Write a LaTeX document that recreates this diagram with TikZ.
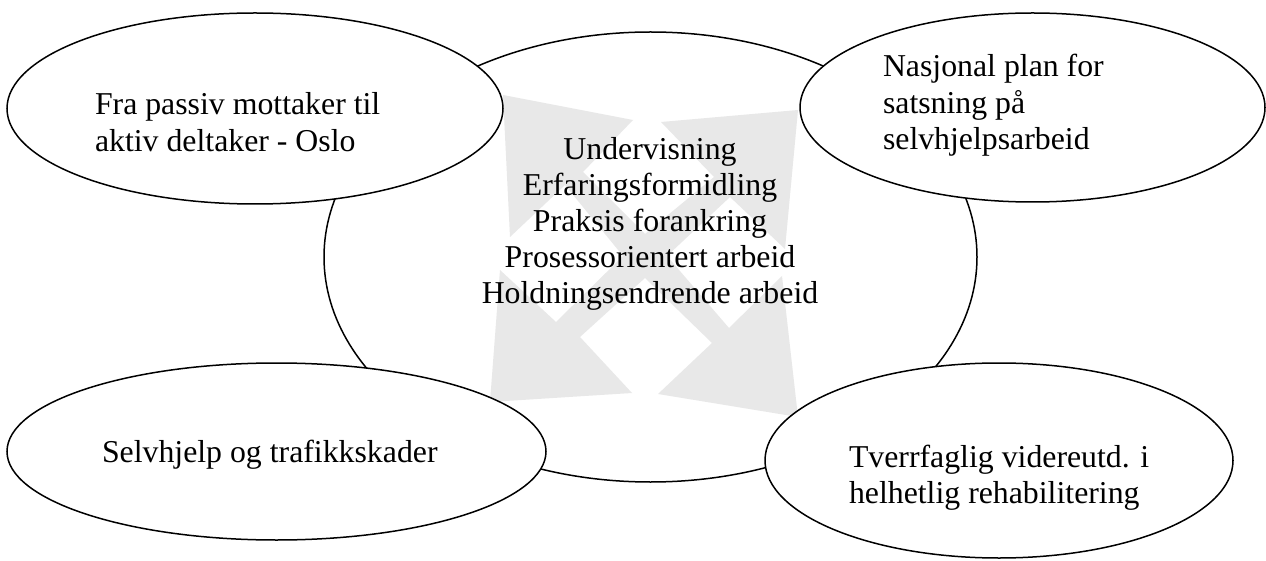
\documentclass[tikz,border=0pt]{standalone}
\usepackage{fontspec}
\setmainfont{Liberation Serif}
\usetikzlibrary{shapes.geometric}
\definecolor{arrowgrey}{RGB}{232,232,232}
\begin{document}
\begin{tikzpicture}[x=1pt,y=-1pt,
  bubble/.style={draw=black, line width=1.5pt, fill=white, ellipse, inner sep=0pt, outer sep=0pt},
  txt/.style={inner sep=0pt, outer sep=0pt, font=\fontsize{31.8}{36.3}\selectfont},
  lefttxt/.style={txt, anchor=base west},
  midtxt/.style={txt, anchor=base},
]
\useasboundingbox (0,0) rectangle (1266,561);
% central ellipse
\node[bubble, minimum width=653pt, minimum height=450pt] (hub) at (650.5,257) {};
% grey crossed double arrows
\fill[arrowgrey] (503,95) -- (633,120) -- (583,172) -- (645,234) -- (714,177) -- (661,122)
  -- (798,110) -- (785,249) -- (730,197) -- (667,256) -- (729,328) -- (782,276)
  -- (798,417) -- (658,394) -- (712,343) -- (645,278) -- (580,337) -- (632,393)
  -- (490,402) -- (500,270) -- (556,322) -- (623,256) -- (565,185) -- (510,237) -- cycle;
% central text
\node[midtxt] (h1) at (650,160) {Undervisning};
\node[midtxt] (h2) at (650,196) {Erfaringsformidling};
\node[midtxt] (h3) at (650,232) {Praksis forankring};
\node[midtxt] (h4) at (650,268) {Prosessorientert arbeid};
\node[midtxt] (h5) at (650,304) {Holdningsendrende arbeid};
% outer ellipses
\node[bubble, minimum width=496pt, minimum height=191pt] (tl) at (255,108.5) {};
\node[bubble, minimum width=465pt, minimum height=189pt] (tr) at (1032.5,107.5) {};
\node[bubble, minimum width=539pt, minimum height=177pt] (bl) at (276.5,451.5) {};
\node[bubble, minimum width=468pt, minimum height=195pt] (br) at (999,460.5) {};
% outer texts
\node[lefttxt] (tl1) at (95,115) {Fra passiv mottaker til};
\node[lefttxt] (tl2) at (95,152) {aktiv deltaker - Oslo};
\node[lefttxt] (tr1) at (883,77) {Nasjonal plan for};
\node[lefttxt] (tr2) at (883,113.5) {satsning på};
\node[lefttxt] (tr3) at (883,150) {selvhjelpsarbeid};
\node[lefttxt] (bl1) at (102,462) {Selvhjelp og trafikkskader};
\node[lefttxt] (br1) at (849,467) {Tverrfaglig videreutd. i};
\node[lefttxt] (br2) at (849,503) {helhetlig rehabilitering};
\end{tikzpicture}
\end{document}
